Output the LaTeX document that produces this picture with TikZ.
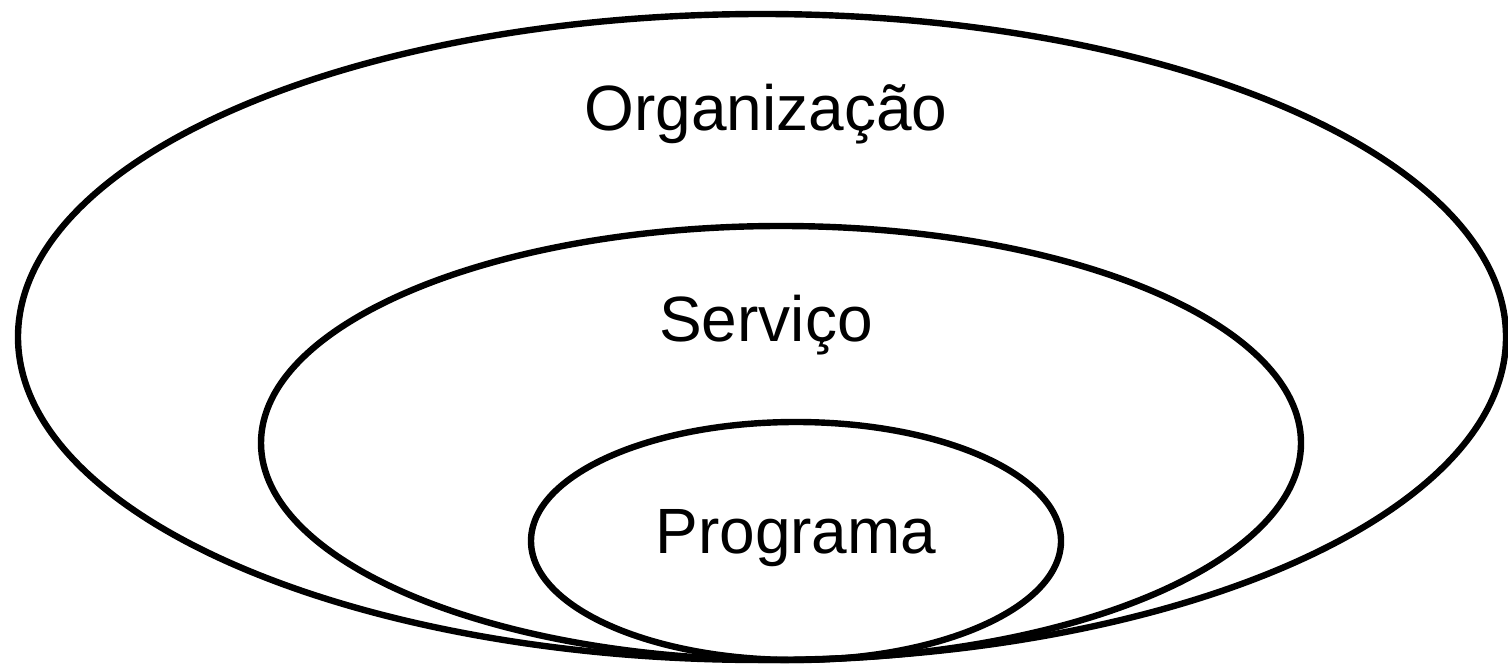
\documentclass[tikz,border=0pt]{standalone}
\usepackage{fontspec}
\setmainfont{Liberation Sans}
\usepackage{tikz}

\begin{document}
\begin{tikzpicture}[x=0.5pt,y=0.5pt,ring/.style={black,line width=3.2pt},lbl/.style={anchor=base,font=\fontsize{32}{38}\selectfont}]
\useasboundingbox (0,0) rectangle (1508,665);
\draw[ring] (762,328) ellipse [x radius=744, y radius=323];
\draw[ring] (781,222) ellipse [x radius=520, y radius=217];
\draw[ring] (796,124) ellipse [x radius=265, y radius=119];

\node[lbl] (org) at (766,534) {Organização};
\node[lbl] (serv) at (766,324) {Serviço};
\node[lbl] (prog) at (796,112) {Programa};
\end{tikzpicture}
\end{document}
